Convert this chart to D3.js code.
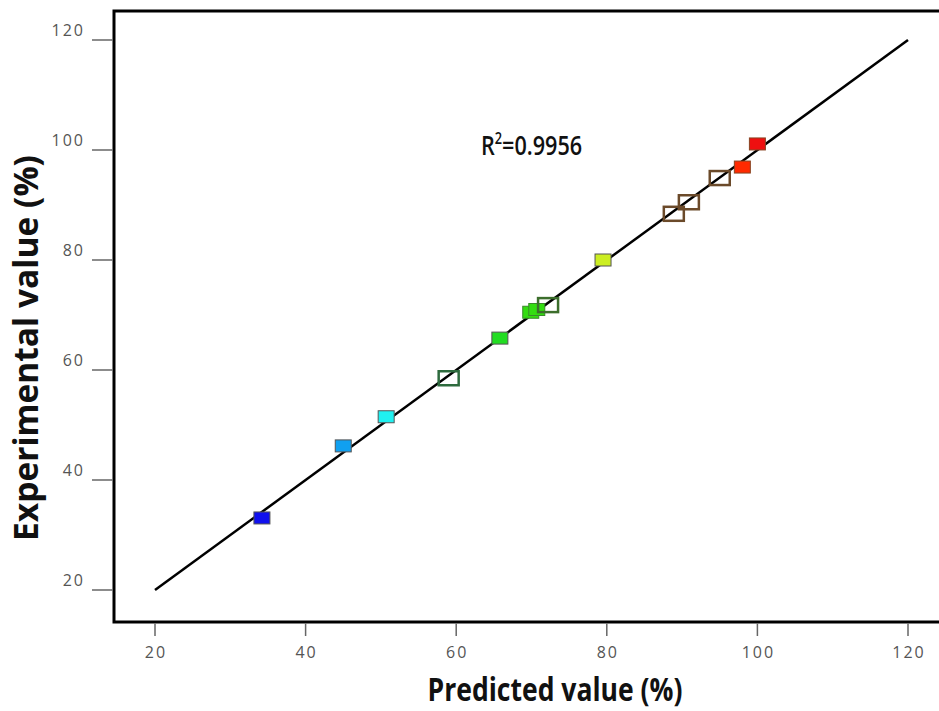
<!DOCTYPE html>
<html>
<head>
<meta charset="utf-8">
<script src="https://cdn.jsdelivr.net/npm/d3@7"></script>
<style>
html,body{margin:0;padding:0;background:#fff;}
</style>
</head>
<body>
<svg id="chart" width="939" height="711"></svg>
<script>
// ---- data ----
const predicted    = [34.2, 45.0, 50.7, 59.0, 65.8, 69.9, 70.7, 72.2, 79.5, 88.9, 90.9, 95.0, 98.0, 100.0];
const experimental = [33.1, 46.2, 51.5, 58.5, 65.8, 70.5, 71.0, 71.8, 80.0, 88.4, 90.5, 94.9, 96.9, 101.1];
const fillColors   = ["#1010ee", "#10a0f0", "#20f0f0", "none", "#22dd22", "#33dd11", "#33dd11", "none", "#ccee22", "none", "none", "none", "#ff2a00", "#ee1010"];
const strokeColors = ["#555555", "#555555", "#555555", "#2e6b3e", "#555555", "#3a8a2a", "#3a8a2a", "#3c6e2c", "#555555", "#6b4a2a", "#6b4a2a", "#6b4a2a", "#884422", "#884422"];
const hollow       = [false, false, false, true, false, false, false, true, false, true, true, true, false, false];
const xTicks = [20, 40, 60, 80, 100, 120];
const yTicks = [20, 40, 60, 80, 100, 120];
const fitLine = [[20, 20], [120, 120]];
const r2Label = "0.9956";

// ---- layout ----
const svg = d3.select("#chart");
const x = d3.scaleLinear().domain([20, 120]).range([155, 908]);
const y = d3.scaleLinear().domain([20, 120]).range([590, 40]);
const frame = {left: 114, top: 11, bottom: 622, right: 960};
const tickFont = "'Open Sans', sans-serif";

// frame
svg.append("rect")
  .attr("x", frame.left).attr("y", frame.top)
  .attr("width", frame.right - frame.left).attr("height", frame.bottom - frame.top)
  .attr("fill", "none").attr("stroke", "#000").attr("stroke-width", 3);

// x ticks
const xg = svg.append("g");
xg.selectAll("line").data(xTicks).join("line")
  .attr("x1", d => x(d)).attr("x2", d => x(d))
  .attr("y1", frame.bottom + 1.5).attr("y2", frame.bottom + 14)
  .attr("stroke", "#666").attr("stroke-width", 1.5);
xg.selectAll("text").data(xTicks).join("text")
  .attr("x", d => x(d) + 1).attr("y", 658)
  .attr("text-anchor", "middle")
  .attr("font-family", tickFont)
  .attr("font-size", 16).attr("letter-spacing", "2px")
  .attr("fill", "#555")
  .text(d => d);

// y ticks
const yg = svg.append("g");
yg.selectAll("line").data(yTicks).join("line")
  .attr("x1", 92).attr("x2", frame.left - 1.5)
  .attr("y1", d => y(d)).attr("y2", d => y(d))
  .attr("stroke", "#666").attr("stroke-width", 1.5);
yg.selectAll("text").data(yTicks).join("text")
  .attr("x", 85).attr("y", d => y(d) - 4)
  .attr("text-anchor", "end")
  .attr("font-family", tickFont)
  .attr("font-size", 16).attr("letter-spacing", "2px")
  .attr("fill", "#555")
  .text(d => d);

// fit line
svg.append("path")
  .attr("d", d3.line().x(d => x(d[0])).y(d => y(d[1]))(fitLine))
  .attr("stroke", "#000").attr("stroke-width", 2.5).attr("fill", "none");

// points
const pts = predicted.map((p, i) => ({p, e: experimental[i], fill: fillColors[i], stroke: strokeColors[i], hollow: hollow[i]}));
svg.append("g").selectAll("rect").data(pts).join("rect")
  .attr("x", d => x(d.p) - (d.hollow ? 10 : 8))
  .attr("y", d => y(d.e) - (d.hollow ? 7 : 6))
  .attr("width", d => d.hollow ? 20 : 16)
  .attr("height", d => d.hollow ? 14 : 12)
  .attr("fill", d => d.fill)
  .attr("stroke", d => d.stroke)
  .attr("stroke-width", d => d.hollow ? 2.5 : 1);

// R^2 label (condensed)
const r2 = svg.append("text")
  .attr("transform", "translate(481,155) scale(0.8,1)")
  .attr("font-family", "'Open Sans', sans-serif")
  .attr("font-weight", 600)
  .attr("font-size", 27).attr("fill", "#111");
r2.append("tspan").text("R");
r2.append("tspan").attr("dy", -11).attr("font-size", 16).text("2");
r2.append("tspan").attr("dy", 11).text("=" + r2Label);

// axis titles
svg.append("text")
  .attr("transform", "translate(555,701) scale(0.83,1)")
  .attr("text-anchor", "middle")
  .attr("font-family", "'Open Sans', sans-serif")
  .attr("font-weight", "bold").attr("font-size", 32).attr("fill", "#111")
  .text("Predicted value (%)");

svg.append("text")
  .attr("transform", "translate(38,348) rotate(-90)")
  .attr("text-anchor", "middle")
  .attr("font-family", "'Open Sans', sans-serif")
  .attr("font-weight", "bold").attr("font-size", 33.5).attr("fill", "#111")
  .text("Experimental value (%)");
</script>
</body>
</html>
